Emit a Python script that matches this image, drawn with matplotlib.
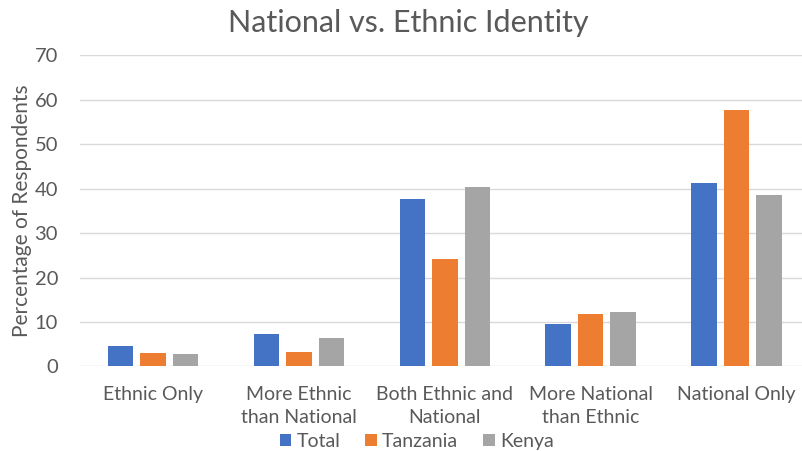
import matplotlib
matplotlib.use("Agg")
import matplotlib.pyplot as plt
import numpy as np

categories = ["Ethnic Only", "More Ethnic\nthan National", "Both Ethnic and\nNational",
              "More National\nthan Ethnic", "National Only"]
series_names = ["Total", "Tanzania", "Kenya"]
total = [4.7, 7.2, 37.7, 9.6, 41.3]
tanzania = [3.0, 3.3, 24.3, 11.9, 57.8]
kenya = [2.7, 6.5, 40.5, 12.2, 38.7]
colors = ["#4472C4", "#ED7D31", "#A5A5A5"]
yticks = [0, 10, 20, 30, 40, 50, 60, 70]

plt.rcParams['font.family'] = ['Lato', 'DejaVu Sans']
text_color = "#595959"

fig = plt.figure(figsize=(8.03, 4.51), dpi=100)
ax = fig.add_axes([0.100, 0.1874, 0.908, 0.6896])

x = np.arange(len(categories))
w = 0.175
step = 0.223
for i, (vals, name) in enumerate(zip([total, tanzania, kenya], series_names)):
    ax.bar(x + (i - 1) * step, vals, width=w, color=colors[i], label=name, zorder=3)

ax.set_xlim(-0.5, len(categories) - 0.5)
ax.set_ylim(0, 70)
ax.set_yticks(yticks)
ax.set_yticklabels([str(t) for t in yticks], fontsize=14.5, color=text_color)
ax.set_xticks(x)
ax.set_xticklabels(categories, fontsize=14, color=text_color, linespacing=1.4)
ax.tick_params(axis='y', length=0, pad=16)
ax.tick_params(axis='x', length=0, pad=14)
ax.grid(axis='y', color="#D9D9D9", linewidth=1, zorder=0)
for s in ax.spines.values():
    s.set_visible(False)

ax.set_ylabel("Percentage of Respondents", fontsize=15, color=text_color, labelpad=2)
fig.text(0.509, 0.948, "National vs. Ethnic Identity", ha='center', va='center',
         fontsize=22, color=text_color)

leg = fig.legend(loc='center', bbox_to_anchor=(0.519, 0.022), ncol=3, frameon=False,
                 fontsize=14, handlelength=0.6, handleheight=0.6, handletextpad=0.25,
                 columnspacing=1.3)
for t in leg.get_texts():
    t.set_color(text_color)

fig.savefig("out.png", dpi=100)
